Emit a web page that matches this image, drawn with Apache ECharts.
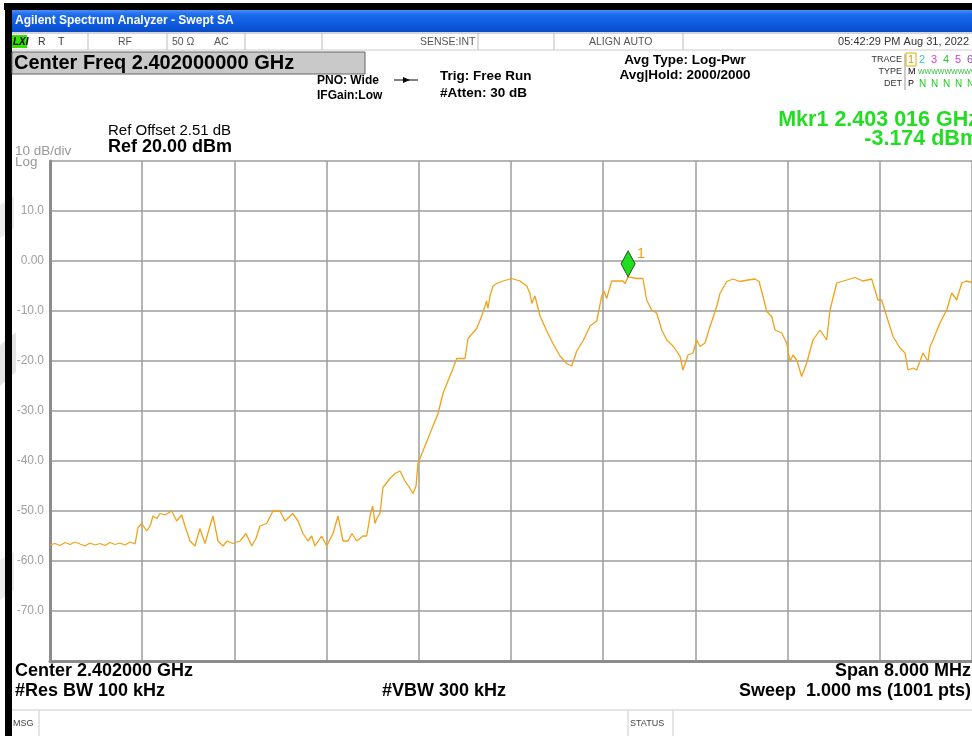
<!DOCTYPE html>
<html>
<head>
<meta charset="utf-8">
<title>Agilent Spectrum Analyzer - Swept SA</title>
<script src="https://cdn.jsdelivr.net/npm/echarts@6/dist/echarts.min.js"></script>
<style>
  html, body { margin: 0; padding: 0; background: #fff; }
  #chart { width: 972px; height: 736px; }
</style>
</head>
<body>
<div id="chart"></div>
<script>
// trace: offset from centre 2.402 GHz (MHz) / level (dBm)
var freqOffset = [
    -4.000, -3.957, -3.913, -3.870, -3.826, -3.783, -3.740, -3.696, -3.653, -3.610,
    -3.566, -3.523, -3.479, -3.436, -3.393, -3.349, -3.306, -3.262, -3.236, -3.204,
    -3.161, -3.132, -3.106, -3.072, -3.046, -3.002, -2.944, -2.901, -2.857, -2.829,
    -2.785, -2.742, -2.699, -2.655, -2.612, -2.586, -2.542, -2.499, -2.464, -2.412,
    -2.351, -2.299, -2.250, -2.213, -2.178, -2.120, -2.065, -2.004, -1.961, -1.894,
    -1.848, -1.805, -1.761, -1.729, -1.701, -1.643, -1.599, -1.544, -1.501, -1.458,
    -1.414, -1.380, -1.339, -1.284, -1.252, -1.223, -1.200, -1.180, -1.165, -1.137,
    -1.111, -1.050, -1.007, -0.963, -0.920, -0.876, -0.850, -0.824, -0.807, -0.764,
    -0.703, -0.633, -0.590, -0.547, -0.512, -0.471, -0.399, -0.373, -0.298, -0.254,
    -0.211, -0.200, -0.182, -0.156, -0.124, -0.069, 0.006, 0.078, 0.136, 0.165,
    0.180, 0.208, 0.252, 0.310, 0.364, 0.425, 0.483, 0.527, 0.570, 0.625,
    0.686, 0.744, 0.787, 0.807, 0.830, 0.874, 0.928, 0.972, 0.989, 1.016,
    1.091, 1.145, 1.177, 1.221, 1.264, 1.308, 1.351, 1.406, 1.466, 1.492,
    1.536, 1.579, 1.611, 1.640, 1.683, 1.727, 1.785, 1.813, 1.872, 1.926,
    1.987, 2.056, 2.117, 2.152, 2.187, 2.219, 2.262, 2.291, 2.349, 2.392,
    2.421, 2.447, 2.479, 2.522, 2.566, 2.620, 2.681, 2.739, 2.768, 2.826,
    2.913, 2.985, 3.054, 3.130, 3.158, 3.184, 3.216, 3.260, 3.315, 3.375,
    3.419, 3.445, 3.488, 3.520, 3.575, 3.618, 3.636, 3.662, 3.722, 3.781,
    3.824, 3.867, 3.911, 3.948, 4.000
];
var traceDbm = [
    -56.8, -56.5, -56.9, -56.3, -56.7, -56.2, -56.6, -57.0, -56.4, -56.8,
    -56.5, -56.9, -56.3, -56.7, -56.4, -56.8, -56.2, -56.6, -53.3, -52.5,
    -54.0, -53.0, -51.0, -51.5, -50.5, -50.8, -50.0, -52.0, -50.8, -53.0,
    -56.0, -57.0, -53.5, -56.5, -53.0, -51.0, -56.0, -57.0, -56.0, -56.5,
    -56.0, -54.5, -57.0, -55.5, -53.0, -52.5, -50.0, -50.0, -52.0, -50.5,
    -52.0, -54.5, -56.0, -55.0, -57.0, -55.0, -57.0, -54.5, -51.0, -56.0,
    -56.0, -54.5, -56.0, -55.0, -55.0, -51.0, -49.0, -52.5, -51.5, -50.5,
    -45.3, -43.5, -42.5, -42.0, -44.0, -45.5, -46.5, -45.0, -40.5, -38.0,
    -34.5, -30.5, -26.5, -24.0, -22.0, -19.5, -19.5, -15.5, -13.5, -11.0,
    -8.0, -9.5, -7.0, -5.0, -4.5, -4.0, -3.5, -4.0, -5.0, -6.5,
    -8.5, -7.0, -11.0, -14.0, -16.5, -19.0, -20.5, -21.0, -18.0, -16.0,
    -13.0, -12.0, -7.0, -6.0, -7.5, -4.0, -4.0, -4.0, -4.5, -3.174,
    -3.5, -3.5, -7.8, -9.8, -10.4, -13.8, -15.8, -17.0, -19.0, -21.8,
    -18.8, -18.4, -15.8, -17.1, -16.4, -13.1, -9.1, -6.5, -4.1, -3.6,
    -4.1, -3.8, -3.6, -4.1, -7.1, -10.1, -11.1, -13.8, -14.4, -16.4,
    -20.1, -18.8, -19.8, -23.1, -20.4, -15.8, -13.8, -15.8, -9.8, -4.4,
    -3.8, -3.3, -4.0, -3.6, -5.8, -7.8, -7.8, -11.1, -15.1, -17.4,
    -18.4, -21.8, -21.4, -21.8, -18.4, -20.1, -17.1, -15.8, -12.4, -9.8,
    -6.4, -7.8, -4.4, -4.0, -4.3
];
var yTickValues = [10, 0, -10, -20, -30, -40, -50, -60, -70];
var marker1 = [1.016, -3.174];

var F = '"Liberation Sans", Arial, sans-serif';
var GREEN = '#22dd22';

function txt(x, y, s, font, fill, align) {
    return {
        type: 'text', x: x, y: y, silent: true,
        style: { text: s, font: font, fill: fill || '#000', align: align || 'left', verticalAlign: 'middle' }
    };
}
function ln(x1, y1, x2, y2, color, w) {
    return { type: 'line', silent: true, shape: { x1: x1, y1: y1, x2: x2, y2: y2 }, style: { stroke: color || '#bbb', lineWidth: w || 1 } };
}
function box(x, y, w, h, fill, stroke) {
    return { type: 'rect', silent: true, shape: { x: x, y: y, width: w, height: h }, style: { fill: fill, stroke: stroke || null, lineWidth: 1 } };
}

var trace = freqOffset.map(function (f, i) { return [f, traceDbm[i]]; });

var graphics = [
    // faint watermark patches on the left edge
    { type: 'polygon', silent: true, shape: { points: [[0, 345], [16, 332], [16, 372], [0, 386]] }, style: { fill: '#e4e4e4' } },
    { type: 'polygon', silent: true, shape: { points: [[0, 205], [14, 196], [14, 228], [0, 238]] }, style: { fill: '#ececec' } },
    { type: 'polygon', silent: true, shape: { points: [[0, 560], [14, 552], [14, 590], [0, 600]] }, style: { fill: '#ececec' } },
    // frame
    box(4, 3, 968, 7, '#000'),
    box(5, 3, 7, 733, '#000'),
    {
        type: 'rect', silent: true, shape: { x: 12, y: 10, width: 960, height: 22 },
        style: { fill: { type: 'linear', x: 0, y: 0, x2: 0, y2: 1, colorStops: [
            { offset: 0, color: '#4a8ff5' }, { offset: 0.2, color: '#1e6ded' },
            { offset: 0.7, color: '#0c58dc' }, { offset: 1, color: '#0a4cc4' }] } }
    },
    txt(15, 21, 'Agilent Spectrum Analyzer - Swept SA', 'bold 12px ' + F, '#fff'),
    // status row
    ln(12, 33, 972, 33, '#aaa'), ln(12, 50, 972, 50, '#ccc'),
    ln(88, 33, 88, 50), ln(167, 33, 167, 50), ln(245, 33, 245, 50), ln(322, 33, 322, 50),
    ln(478, 33, 478, 50), ln(554, 33, 554, 50), ln(683, 33, 683, 50),
    box(12, 35, 15, 13, '#33e000'),
    txt(13, 42, 'LXI', 'italic bold 10px ' + F, '#000'),
    txt(38, 42, 'R', '10.5px ' + F, '#333'), txt(58, 42, 'T', '10.5px ' + F, '#333'),
    txt(118, 42, 'RF', '10.5px ' + F, '#555'),
    txt(172, 42, '50 Ω', '10.5px ' + F, '#555'), txt(214, 42, 'AC', '10.5px ' + F, '#555'),
    txt(420, 42, 'SENSE:INT', '10.5px ' + F, '#555'),
    txt(589, 42, 'ALIGN AUTO', '10.5px ' + F, '#555'),
    txt(969, 42, '05:42:29 PM Aug 31, 2022', '11px ' + F, '#333', 'right'),
    // centre freq box
    box(12, 52, 353, 22, '#c9c9c9', '#666'),
    txt(14, 63, 'Center Freq 2.402000000 GHz', 'bold 20px ' + F),
    txt(317, 81, 'PNO: Wide', 'bold 12px ' + F),
    txt(317, 96, 'IFGain:Low', 'bold 12px ' + F),
    ln(394, 80, 418, 80, '#000', 1),
    { type: 'polygon', silent: true, shape: { points: [[403, 77], [410, 80], [403, 83]] }, style: { fill: '#000' } },
    txt(440, 76, 'Trig: Free Run', 'bold 13.5px ' + F),
    txt(440, 93, '#Atten: 30 dB', 'bold 13.5px ' + F),
    txt(685, 60, 'Avg Type: Log-Pwr', 'bold 13.5px ' + F, '#000', 'center'),
    txt(685, 75, 'Avg|Hold: 2000/2000', 'bold 13.5px ' + F, '#000', 'center'),
    // trace table
    txt(902, 60, 'TRACE', '9px ' + F, '#333', 'right'),
    txt(902, 72, 'TYPE', '9px ' + F, '#333', 'right'),
    txt(902, 84, 'DET', '9px ' + F, '#333', 'right'),
    ln(905, 54, 905, 90, '#999'),
    box(906, 53, 10, 13, null, '#e0b000'),
    txt(908, 60, '1', '11px ' + F, '#d8a000'),
    txt(919, 60, '2', '11px ' + F, '#33c3d3'),
    txt(931, 60, '3', '11px ' + F, '#d040d0'),
    txt(943, 60, '4', '11px ' + F, '#33c040'),
    txt(955, 60, '5', '11px ' + F, '#d040d0'),
    txt(967, 60, '6', '11px ' + F, '#8a50b0'),
    txt(908, 72, 'M', '9px ' + F, '#000'),
    txt(918, 72, 'WWWWWWWWW', '7px ' + F, '#33c040'),
    txt(908, 84, 'P', '9px ' + F, '#000'),
    txt(919, 84, 'N', '10px ' + F, '#22cc22'), txt(931, 84, 'N', '10px ' + F, '#22cc22'),
    txt(943, 84, 'N', '10px ' + F, '#22cc22'), txt(955, 84, 'N', '10px ' + F, '#22cc22'),
    txt(967, 84, 'N', '10px ' + F, '#22cc22'),
    // marker readout
    txt(979, 120, 'Mkr1 2.403 016 GHz', 'bold 21.5px ' + F, GREEN, 'right'),
    txt(979, 139, '-3.174 dBm', 'bold 21.5px ' + F, GREEN, 'right'),
    // reference level
    txt(108, 131, 'Ref Offset 2.51 dB', '15px ' + F),
    txt(108, 147, 'Ref 20.00 dBm', 'bold 18px ' + F),
    txt(15, 151, '10 dB/div', '13.5px ' + F, '#999'),
    txt(15, 162, 'Log', '13.5px ' + F, '#999'),
    // bottom annotations
    txt(15, 671, 'Center 2.402000 GHz', 'bold 18px ' + F),
    txt(15, 691, '#Res BW 100 kHz', 'bold 18px ' + F),
    txt(382, 691, '#VBW 300 kHz', 'bold 18px ' + F),
    txt(971, 671, 'Span 8.000 MHz', 'bold 18px ' + F, '#000', 'right'),
    txt(971, 691, 'Sweep  1.000 ms (1001 pts)', 'bold 18px ' + F, '#000', 'right'),
    ln(12, 710, 972, 710, '#ccc'),
    ln(39, 710, 39, 736, '#ccc'), ln(628, 710, 628, 736, '#ccc'), ln(673, 710, 673, 736, '#ccc'),
    txt(13, 724, 'MSG', '9px ' + F, '#444'),
    txt(630, 724, 'STATUS', '9px ' + F, '#444')
];

var option = {
    animation: false,
    backgroundColor: '#fff',
    grid: { left: 50, right: 0, top: 161, bottom: 75, containLabel: false },
    xAxis: {
        type: 'value', min: -4, max: 4, interval: 0.8,
        axisLine: { show: true, onZero: false, lineStyle: { color: '#8c8c8c', width: 3 } },
        axisTick: { show: false },
        axisLabel: { show: false },
        splitLine: { show: true, lineStyle: { color: '#9c9c9c', width: 1.5 } }
    },
    yAxis: {
        type: 'value', min: -80, max: 20, interval: 10,
        axisLine: { show: true, onZero: false, lineStyle: { color: '#8c8c8c', width: 3 } },
        axisTick: { show: false },
        axisLabel: {
            color: '#a0a0a0', fontSize: 12, fontFamily: 'Liberation Sans', margin: 6,
            formatter: function (v) {
                if (yTickValues.indexOf(v) < 0) return '';
                return v === 0 ? '0.00' : v.toFixed(1);
            }
        },
        splitLine: { show: true, lineStyle: { color: '#9c9c9c', width: 1.5 } }
    },
    series: [{
        type: 'line',
        data: trace,
        showSymbol: false,
        lineStyle: { color: '#f0a21a', width: 1.3 },
        markPoint: {
            symbol: 'diamond',
            symbolSize: [14, 26],
            symbolOffset: [0, -13],
            itemStyle: { color: '#20dd20', borderColor: '#1d4d1d', borderWidth: 1 },
            label: { show: true, formatter: '1', position: [16, -4], color: '#f0a21a', fontSize: 15, fontFamily: 'Liberation Sans' },
            data: [{ coord: marker1 }]
        }
    }],
    graphic: { elements: graphics }
};

var myChart = echarts.init(document.getElementById('chart'));
myChart.setOption(option);
</script>
</body>
</html>
